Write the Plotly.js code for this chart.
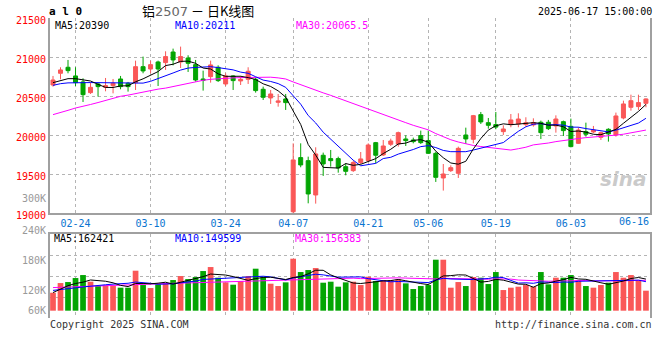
<!DOCTYPE html>
<html><head><meta charset="utf-8">
<script src="https://cdn.plot.ly/plotly-3.0.1.min.js"></script>
<style>html,body{margin:0;padding:0;background:#fff;}#chart{width:660px;height:360px;}</style>
</head><body><div id="chart"></div>
<script>
const dates = ['02-19','02-20','02-21','02-24','02-25','02-26','02-27','02-28','03-03','03-04','03-05','03-06','03-07','03-10','03-11','03-12','03-13','03-14','03-17','03-18','03-19','03-20','03-21','03-24','03-25','03-26','03-27','03-28','03-31','04-01','04-02','04-03','04-07','04-08','04-09','04-10','04-11','04-14','04-15','04-16','04-17','04-18','04-21','04-22','04-23','04-24','04-25','04-28','04-29','04-30','05-06','05-07','05-08','05-09','05-12','05-13','05-14','05-15','05-16','05-19','05-20','05-21','05-22','05-23','05-26','05-27','05-28','05-29','05-30','06-03','06-04','06-05','06-06','06-09','06-10','06-11','06-12','06-13','06-16','06-17'];
const open = [20645,20795,20872,20761,20684,20547,20658,20615,20637,20722,20667,20675,20880,20850,20940,20932,21068,20940,20991,20906,20722,20752,20872,20658,20761,20697,20718,20718,20590,20479,20423,20466,19020,19714,19675,19235,19744,19701,19701,19598,19547,19650,19675,19906,19748,19885,19889,19953,19940,19996,19932,19769,19453,19547,19513,20004,19949,20265,20162,20137,20047,20137,20145,20137,20133,20167,20167,20120,20175,20115,19897,20047,20043,19974,20077,20004,20222,20359,20368,20410];
const high = [20761,20872,20966,20872,20731,20675,20675,20735,20722,20761,20684,20957,21009,20957,20957,21077,21111,21137,21026,20966,20829,20957,20897,20795,20769,20761,20872,20744,20624,20581,20530,20530,19897,19897,19726,19846,19778,19812,19726,19641,19675,19786,19897,19915,19940,19957,20047,20000,19970,20060,20060,19791,19632,19615,19855,20098,20261,20299,20222,20299,20128,20273,20282,20231,20218,20188,20197,20256,20188,20214,20103,20162,20120,20047,20090,20291,20444,20521,20521,20474];
const low = [20624,20718,20795,20632,20427,20530,20496,20564,20538,20590,20560,20581,20795,20795,20632,20838,20897,20863,20812,20688,20573,20675,20684,20632,20581,20645,20658,20547,20453,20402,20367,20325,18990,19590,19128,19124,19479,19598,19521,19487,19530,19632,19658,19641,19735,19863,19855,19863,19897,19889,19761,19402,19291,19530,19453,19889,19897,20145,20085,20077,20004,20103,20103,20111,20111,19953,20068,20034,19991,19846,19889,19983,20026,19940,19919,19983,20205,20316,20325,20359];
const close = [20709,20838,20829,20675,20521,20615,20624,20637,20667,20624,20624,20880,20825,20906,20850,21009,20966,21009,20923,20709,20705,20902,20701,20761,20701,20718,20821,20573,20487,20530,20440,20419,19684,19620,19248,19761,19633,19675,19581,19538,19650,19697,19876,19744,19863,19927,20034,19932,19919,19906,19769,19461,19504,19585,19833,19953,20252,20171,20128,20105,20081,20197,20209,20162,20162,20034,20085,20209,20060,19855,20068,20013,20068,20034,20017,20248,20402,20444,20419,20466];
const ma5 = [20675,20705,20726,20726,20714,20696,20653,20614,20613,20633,20635,20686,20724,20772,20817,20894,20911,20948,20951,20923,20862,20850,20788,20756,20754,20757,20740,20715,20660,20626,20570,20490,20312,20139,19882,19746,19589,19587,19580,19638,19615,19628,19668,19701,19766,19821,19889,19900,19935,19944,19912,19797,19712,19645,19630,19667,19825,19959,20067,20122,20147,20136,20144,20151,20162,20153,20130,20130,20110,20049,20055,20041,20013,20008,20040,20076,20154,20229,20306,20396];
const ma10 = [20640,20662,20672,20676,20677,20676,20675,20674,20674,20674,20665,20670,20669,20692,20725,20765,20799,20836,20862,20870,20878,20880,20868,20854,20839,20810,20795,20751,20708,20690,20663,20615,20513,20399,20254,20158,20040,19950,19859,19760,19681,19609,19628,19640,19702,19718,19759,19784,19818,19855,19867,19843,19806,19790,19787,19790,19811,19835,19856,19876,19907,19981,20051,20109,20142,20150,20133,20137,20130,20105,20104,20086,20072,20059,20044,20066,20097,20121,20157,20218];
const ma30 = [20265,20290,20320,20350,20370,20395,20420,20445,20475,20500,20515,20535,20560,20580,20592,20605,20625,20645,20668,20690,20705,20718,20726,20732,20736,20740,20742,20744,20745,20745,20736,20722,20684,20648,20606,20578,20544,20512,20476,20440,20408,20368,20336,20298,20265,20229,20198,20162,20128,20102,20070,20022,19982,19943,19914,19889,19870,19856,19844,19830,19818,19811,19828,19847,19877,19886,19901,19919,19935,19945,19959,19970,19976,19986,19991,20002,20014,20031,20048,20067];
const volume = [117600,148500,151700,164500,174100,152800,138900,141100,138900,133600,133600,188000,142100,132500,144300,148500,158100,170900,161300,167700,186900,199700,165600,150700,143200,154900,170900,194400,168800,146400,138900,150700,226400,183700,190100,196500,149600,152800,136800,150700,152800,142100,168800,154900,158100,158100,160300,147500,129300,138900,142100,223200,223200,133600,151700,138900,167700,165600,145300,183700,126100,133600,136800,142100,136800,183700,144300,165600,165600,174100,158100,138900,133600,142100,149600,183700,165600,174100,158100,124000];
const volMa5 = [118000,128000,140000,147000,151300,158300,156400,154300,149200,141100,137200,147000,147200,146000,148100,151100,145100,150900,156600,161300,169000,177300,176200,174100,169200,162800,157100,162800,166400,167100,163900,159800,166200,169200,178000,189500,189300,174500,165200,157300,148500,147000,150200,153900,155300,156400,160000,155800,150700,146800,143600,156200,171300,172200,174800,174100,163000,151500,153800,160200,157700,150900,145100,144500,135100,146600,148700,154500,159200,166700,161500,160500,154100,149400,144500,149600,154900,163000,166200,161100];
const volMa10 = [125000,127000,130000,133000,136000,139000,141000,143000,145000,146200,147800,151700,150800,147600,144600,144200,146100,149100,151300,154700,160000,161200,163600,165400,165300,165900,167200,169500,170300,168200,163400,158500,164500,167800,172500,176700,174600,170400,167200,167600,169000,168200,162400,159500,156300,152500,153500,153000,152300,151100,150000,158100,163600,161400,160800,158900,159600,161400,163000,167500,165900,156900,148300,149200,147700,152100,149800,149800,151800,150900,154100,154600,154300,154300,155600,155600,157700,158500,157800,152800];
const volMa30 = [134000,135000,136000,137200,138000,139100,140000,140800,141500,142000,143000,143800,144500,145100,146000,146800,147500,148200,149000,149800,150700,151500,152000,152800,153500,154000,154600,155000,155600,156300,157100,157100,159600,160300,160800,162200,162600,163000,162900,163500,164100,162600,163500,164200,164700,165000,165100,164300,163200,162300,160800,161600,163500,162900,163200,162700,162600,161600,160800,162100,161600,161100,158100,156700,154900,154500,154300,154700,155700,156500,156700,156600,155400,155000,154700,155500,155700,156600,157500,157100];
const gridDates = ['02-24','03-10','03-24','04-07','04-21','05-06','05-19','06-03'];
const lastDateLabel = '06-16';
const priceTicks = [19000,19500,20000,20500,21000,21500];
const volTickLabels = ['300K','240K','180K','120K','60K'];
const priceMaLabels = ['MA5:20390','MA10:20211','MA30:20065.5'];
const volMaLabels = ['MA5:162421','MA10:149599','MA30:156383'];

const RED = '#fa5757', GREEN = '#03a503';
const C_MA5 = '#000000', C_MA10 = '#0000ff', C_MA30 = '#ff00ff';
const MONO = 'DejaVu Sans Mono';
const idx = dates.map((d, i) => i);
const gridIdx = gridDates.map(d => dates.indexOf(d));
const XR = [-0.4, 79.54];
const VOL_BASE = 60000, VR = [36600, 304500];

const L = 50, T = 18, W = 600, H = 300;
const px = x => (x - L) / W;
const py = y => (T + H - y) / H;

const line = (y, color, xa, ya) => ({type:'scatter', mode:'lines', x: idx, y, xaxis: xa, yaxis: ya,
  line:{color, width:1}, hoverinfo:'skip', showlegend:false});

const traces = [
  {type:'candlestick', x: idx, open, high, low, close, xaxis:'x', yaxis:'y',
   increasing:{line:{color:RED,width:1}, fillcolor:RED},
   decreasing:{line:{color:GREEN,width:1}, fillcolor:GREEN},
   whiskerwidth:0, hoverinfo:'skip', showlegend:false},
  line(ma30, C_MA30, 'x', 'y'), line(ma10, C_MA10, 'x', 'y'), line(ma5, C_MA5, 'x', 'y'),
  {type:'bar', x: idx, y: volume.map(v => v - VOL_BASE), base: VOL_BASE, xaxis:'x2', yaxis:'y2',
   marker:{color: close.map((c, i) => c >= open[i] ? RED : GREEN), line:{width:0}},
   hoverinfo:'skip', showlegend:false},
  line(volMa30, C_MA30, 'x2', 'y2'), line(volMa10, C_MA10, 'x2', 'y2'), line(volMa5, C_MA5, 'x2', 'y2')
];

const gridStyle = {showgrid:true, gridcolor:'#b4b4b4', griddash:'dot', gridwidth:1};
const ann = [];
const A = (text, x, y, xanchor, color, size, family, extra) => ann.push(Object.assign({
  text, x: px(x), y: py(y), xref:'paper', yref:'paper', xanchor, yanchor:'middle', borderpad:0,
  showarrow:false, font:{family: family || MONO, size: size || 10, color: color || '#000'}}, extra || {}));

A('<b>a l 0</b>', 48, 11.5, 'left', '#000', 11);
A('铝<span style="color:#666;font-family:DejaVu Sans">2507</span> － 日K线图', 141, 10.5, 'left', '#000', 13, 'Noto Sans CJK SC');
A('2025-06-17 15:00:00', 653, 11.5, 'right', '#000', 10);
A(priceMaLabels[0], 54, 25.5, 'left', C_MA5, 10);
A(priceMaLabels[1], 174, 25.5, 'left', C_MA10, 10);
A(priceMaLabels[2], 295, 25.5, 'left', C_MA30, 10);
A(volMaLabels[0], 53, 238.5, 'left', C_MA5, 10);
A(volMaLabels[1], 174, 238.5, 'left', C_MA10, 10);
A(volMaLabels[2], 294, 238.5, 'left', C_MA30, 10);
const volLabelY = [198.5, 230.5, 260, 290.7, 310.7];
volTickLabels.forEach((t, i) => A(t, 47, volLabelY[i], 'right', '#999', 10));
A('Copyright 2025 SINA.COM', 49, 324, 'left', '#333', 10);
A('http://finance.sina.com.cn', 653, 324, 'right', '#333', 10);
A('<b><i>sina</i></b>', 623, 179, 'center', 'rgba(150,150,150,0.5)', 20, 'DejaVu Sans');
ann.push({text: lastDateLabel, x: dates.indexOf(lastDateLabel), xref:'x', y: py(221.7), yref:'paper',
  xanchor:'center', yanchor:'middle', xshift:-4, showarrow:false, font:{family:MONO, size:10, color:'#0a74d0'}});

const layout = {
  width:660, height:360, margin:{l:L, r:660-L-W, t:T, b:360-T-H},
  paper_bgcolor:'#fff', plot_bgcolor:'#fff', showlegend:false, boxgap:0.24, bargap:0.24,
  xaxis: Object.assign({domain:[0,1], anchor:'y', range:XR, rangeslider:{visible:false},
    tickmode:'array', tickvals:gridIdx, ticktext:gridDates, ticks:'',
    tickfont:{family:MONO, size:10, color:'#0a74d0'},
    showline:true, linecolor:'#a0a0a0', linewidth:2, zeroline:false, fixedrange:true}, gridStyle),
  yaxis: Object.assign({domain:[py(213.3), py(18.3)], anchor:'x', range:[19000,21500],
    tickmode:'array', tickvals:priceTicks, ticktext:priceTicks.map(String), ticks:'',
    ticklabelshift:2, tickfont:{family:MONO, size:10, color:'#ff0000'},
    showline:true, mirror:true, linecolor:'#a0a0a0', linewidth:2, zeroline:false}, gridStyle),
  xaxis2: Object.assign({domain:[0,1], anchor:'y2', range:XR, side:'top',
    tickmode:'array', tickvals:gridIdx, showticklabels:false, ticks:'',
    showline:true, linecolor:'#a0a0a0', linewidth:2, zeroline:false}, gridStyle),
  yaxis2: Object.assign({domain:[0, py(234.3)], anchor:'x2', range:VR,
    tickmode:'linear', tick0:VR[0], dtick:(VR[1]-VR[0])/4, showticklabels:false, ticks:'',
    showline:true, mirror:true, linecolor:'#a0a0a0', linewidth:2, zeroline:false}, gridStyle),
  annotations: ann
};
Plotly.newPlot('chart', traces, layout, {displayModeBar:false, staticPlot:true});
</script></body></html>
